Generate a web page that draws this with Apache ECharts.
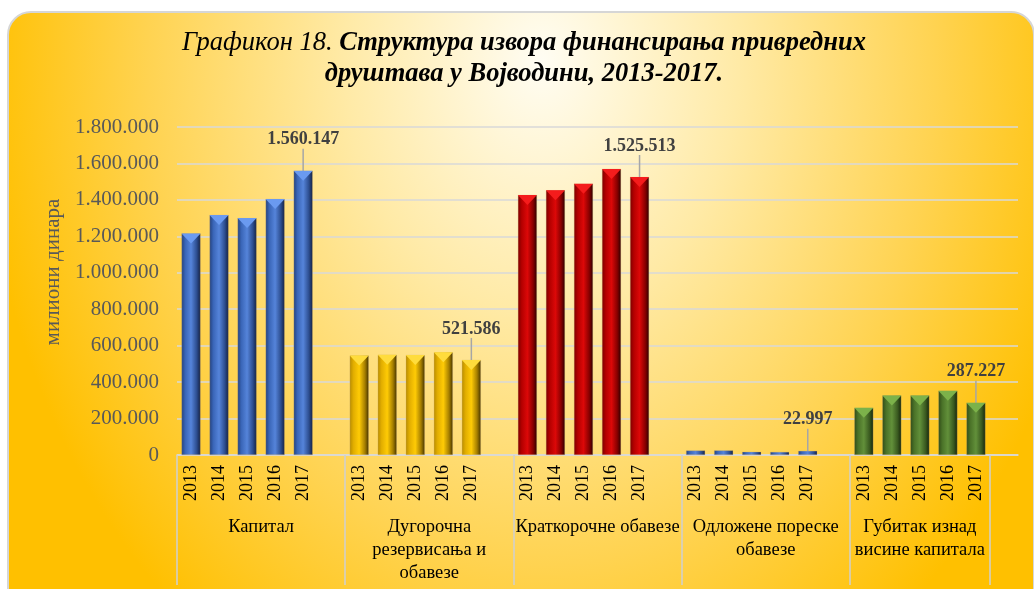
<!DOCTYPE html>
<html lang="ru">
<head>
    <meta charset="UTF-8">
    <title>Графикон 18</title>
    <style>
        body, html {
            margin: 0;
            padding: 0;
            height: 100%;
            width: 100%;
            background: #ffffff;
            overflow: hidden;
        }
        #box {
            position: absolute;
            left: 7px;
            top: 11px;
            width: 1024px;
            height: 600px;
            border: 2px solid #d6d6d6;
            border-radius: 24px;
            background: radial-gradient(ellipse 55% 120% at 52% 8%, #fffdf3 0%, #ffeaa6 35%, #ffd351 70%, #ffc000 100%);
        }
        #main {
            position: absolute;
            left: 0;
            top: 0;
            width: 1034px;
            height: 589px;
        }
    </style>
</head>
<body>
<div id="box"></div>
<div id="main"></div>
<script src="https://cdn.jsdelivr.net/npm/echarts@6/dist/echarts.min.js"></script>
<script>
    // podaci (milioni dinara)
    var years = ['2013', '2014', '2015', '2016', '2017'];
    var groups = ['Капитал', 'Дугорочна\nрезервисања и\nобавезе', 'Краткорочне обавезе', 'Одложене пореске\nобавезе', 'Губитак изнад\nвисине капитала'];
    var kapital = [1215000, 1317000, 1300000, 1405000, 1560147];
    var dugorocna = [546000, 550000, 549000, 564000, 521586];
    var kratkorocne = [1427000, 1453000, 1489000, 1570000, 1525513];
    var odlozene = [25000, 25500, 18000, 17000, 22997];
    var gubitak = [259000, 327000, 327000, 353000, 287227];
    var yTicks = {min: 0, max: 1800000, interval: 200000};

    var groupData = [kapital, dugorocna, kratkorocne, odlozene, gubitak];

    var palettes = [
        ['#22407c', '#3a66b8', '#5584da', '#2d4e90', '#131f40'], // plava
        ['#b88c00', '#e2ae00', '#ffcb05', '#a57e00', '#443300'], // zlatna
        ['#7a0000', '#b40000', '#dc0808', '#880000', '#2c0000'], // crvena
        ['#22407c', '#3a66b8', '#5584da', '#2d4e90', '#131f40'],
        ['#2f4a18', '#4a7228', '#62903a', '#3a5a20', '#16240a']  // zelena
    ];
    // svetliji trougao na vrhu stubica (null = bez trougla, stubici su preniski)
    var topColors = ['#6a9af0', '#ffdc3c', '#f41c1c', null, '#7cb24a'];

    function fmt(v) {
        return String(v).replace(/\B(?=(\d{3})+(?!\d))/g, '.');
    }

    function grad(p) {
        return new echarts.graphic.LinearGradient(0, 0, 1, 0, [
            {offset: 0, color: p[0]},
            {offset: 0.2, color: p[1]},
            {offset: 0.5, color: p[2]},
            {offset: 0.8, color: p[3]},
            {offset: 1, color: p[4]}
        ]);
    }

    // kategorije: 5 godina + prazno mesto posle svake grupe
    var cats = [];
    groups.forEach(function () {
        years.forEach(function (y) { cats.push(y); });
        cats.push('');
    });

    // osa sa nazivima grupa: pola kategorije po koraku (boundaryGap false)
    var groupCats = [];
    for (var i = 0; i < cats.length * 2 + 1; i++) groupCats.push('');
    var groupLabelIdx = [6, 18, 30, 42, 53];
    groupLabelIdx.forEach(function (idx, g) { groupCats[idx] = groups[g]; });
    var sepIdx = [0, 12, 24, 36, 48, 58];

    var series = groupData.map(function (vals, g) {
        var data = cats.map(function () { return '-'; });
        vals.forEach(function (v, k) {
            var item = {value: v};
            if (k === vals.length - 1) {
                item.label = {show: true};
                item.labelLine = {show: true};
            }
            data[g * 6 + k] = item;
        });
        return {
            type: 'bar',
            stack: 'sve',
            barWidth: '68%',
            data: data,
            itemStyle: {
                color: grad(palettes[g]),
                borderColor: 'rgba(200,170,110,0.6)',
                borderWidth: 0.5
            },
            label: {
                show: false,
                position: 'top',
                distance: 4,
                fontFamily: 'Liberation Serif',
                fontWeight: 'bold',
                fontSize: 18,
                color: '#404040',
                formatter: function (p) { return fmt(p.value); }
            },
            labelLayout: {dy: -18},
            labelLine: {
                show: false,
                lineStyle: {color: '#a6a6a6', width: 1.5}
            }
        };
    });

    // trouglasti "3D" vrh stubica
    var tops = cats.map(function () { return '-'; });
    groupData.forEach(function (vals, g) {
        if (!topColors[g]) return;
        vals.forEach(function (v, k) {
            tops[g * 6 + k] = {value: v, itemStyle: {color: topColors[g]}};
        });
    });
    series.push({
        type: 'pictorialBar',
        barWidth: '68%',
        symbol: 'triangle',
        symbolRotate: 180,
        symbolSize: ['100%', 10],
        symbolPosition: 'end',
        z: 3,
        silent: true,
        data: tops
    });

    var myChart = echarts.init(document.getElementById('main'));
    myChart.setOption({
        animation: false,
        backgroundColor: 'transparent',
        title: {
            text: '{a|Графикон 18. }{b|Структура извора финансирања привредних}\n{b|друштава у Војводини, 2013-2017.}',
            left: 519,
            top: 23,
            textAlign: 'center',
            textStyle: {
                rich: {
                    a: {fontFamily: 'Liberation Serif', fontStyle: 'italic', fontWeight: 'normal', fontSize: 26.5, color: '#000', lineHeight: 31},
                    b: {fontFamily: 'Liberation Serif', fontStyle: 'italic', fontWeight: 'bold', fontSize: 26.5, color: '#000', lineHeight: 31}
                }
            }
        },
        grid: {left: 177, right: 16, top: 127, bottom: 134},
        xAxis: [
            {
                type: 'category',
                data: cats,
                axisLine: {show: true, lineStyle: {color: '#d9d9d9', width: 1.5}},
                axisTick: {show: false},
                axisLabel: {
                    interval: 0,
                    rotate: 90,
                    margin: 10,
                    fontFamily: 'Liberation Serif',
                    fontSize: 18,
                    color: '#000'
                }
            },
            {
                type: 'category',
                position: 'bottom',
                boundaryGap: false,
                data: groupCats,
                axisLine: {show: false},
                axisTick: {
                    show: true,
                    length: 130,
                    interval: function (idx) { return sepIdx.indexOf(idx) >= 0; },
                    lineStyle: {color: '#d0d0d0', width: 1.5}
                },
                axisLabel: {
                    interval: 0,
                    margin: 61,
                    fontFamily: 'Liberation Serif',
                    fontSize: 18.5,
                    lineHeight: 23,
                    color: '#000'
                }
            }
        ],
        yAxis: {
            type: 'value',
            min: yTicks.min,
            max: yTicks.max,
            interval: yTicks.interval,
            name: 'милиони динара',
            nameLocation: 'middle',
            nameRotate: 90,
            nameGap: 112,
            nameTextStyle: {fontFamily: 'Liberation Serif', fontSize: 21, color: '#595959', padding: [0, 0, 0, 38]},
            axisLine: {show: false},
            axisTick: {show: false},
            splitLine: {lineStyle: {color: '#d9d9d9', width: 1.5}},
            axisLabel: {
                margin: 18,
                fontFamily: 'Liberation Serif',
                fontSize: 21,
                color: '#595959',
                formatter: function (v) { return fmt(v); }
            }
        },
        series: series
    });
</script>
</body>
</html>
